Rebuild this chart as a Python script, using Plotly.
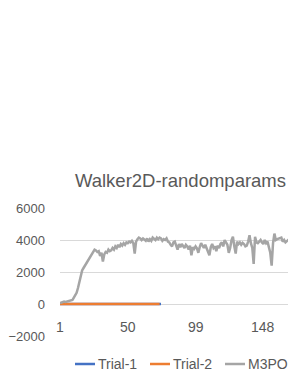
import plotly.graph_objects as go

title_text = "Walker2D-randomparams"
series_names = ["Trial-1", "Trial-2", "M3PO"]
x_tick_labels = [1, 50, 99, 148]
y_tick_vals = [-2000, 0, 2000, 4000, 6000]

trial1 = [
    0, 0, 0, 0, 0, 0, 0, 0, 0, 0,
    0, 0, 0, 0, 0, 0, 0, 0, 0, 0,
    0, 0, 0, 0, 0, 0, 0, 0, 0, 0,
    0, 0, 0, 0, 0, 0, 0, 0, 0, 0,
    0, 0, 0, 0, 0, 0, 0, 0, 0, 0,
    0, 0, 0, 0, 0, 0, 0, 0, 0, 0,
    0, 0, 0, 0, 0, 0, 0, 0, 0, 0,
    0, 0, 0, 0,
]
trial2 = [
    0, 0, 0, 0, 0, 0, 0, 0, 0, 0,
    0, 0, 0, 0, 0, 0, 0, 0, 0, 0,
    0, 0, 0, 0, 0, 0, 0, 0, 0, 0,
    0, 0, 0, 0, 0, 0, 0, 0, 0, 0,
    0, 0, 0, 0, 0, 0, 0, 0, 0, 0,
    0, 0, 0, 0, 0, 0, 0, 0, 0, 0,
    0, 0, 0, 0, 0, 0, 0, 0, 0, 0,
    0, 0, 0,
]
m3po = [
    50, 80, 120, 150, 130, 160, 150, 180, 200, 250,
    400, 550, 700, 1000, 1450, 1800, 2100, 2250, 2400, 2550,
    2650, 2800, 2950, 3100, 3300, 3400, 3350, 3250, 3300, 3000,
    3200, 2650, 3100, 3250, 3200, 3400, 3300, 3350, 3500, 3400,
    3600, 3500, 3700, 3550, 3750, 3650, 3800, 3700, 3850, 3800,
    3900, 3850, 3950, 3800, 3150, 3900, 4050, 4150, 4100, 4000,
    4100, 4050, 3950, 4100, 3900, 4050, 3950, 4150, 4100, 4000,
    4150, 4050, 4150, 4100, 3950, 4050, 4000, 4100, 3900, 3850,
    3700, 3600, 3850, 3900, 3650, 3400, 3750, 3550, 3750, 3600,
    3500, 3700, 3600, 3400, 3650, 3050, 3550, 3450, 3600, 3480,
    3200, 3550, 3800, 3650, 3500, 3700, 3450, 3300, 3050, 3550,
    3750, 3500, 3600, 3300, 3650, 3500, 3750, 3850, 3600, 4000,
    3800, 3700, 3200, 3500, 4000, 4200, 3600, 3150, 3900, 3750,
    3850, 3700, 3820, 3750, 3600, 3650, 3900, 4300, 3800, 3500,
    2500, 4200, 3850, 3800, 3900, 4000, 3850, 3750, 4000, 3800,
    3900, 3500, 3200, 2400, 3800, 4400, 4000, 4050, 4100, 4150,
    4150, 3900, 4000, 3850, 3950, 4000, 3900, 4000, 3950, 4000,
    3950, 4050, 3980, 4020, 4000,
]

colors = ["#4472C4", "#ED7D31", "#A5A5A5"]
font_color = "#595959"
font_family = "Liberation Sans, Arial, sans-serif"

# page body has an 8px default margin; figure canvas starts at screen (8, 8)
OFF = 8
W, H = 296 - OFF, 383 - 2 * OFF
L, T = 60 - OFF, 208 - OFF
R = 0
B = H - (336 - OFF)
pw, ph = W - L - R, H - T - B


def px_to_paper_x(px):
    return (px - OFF - L) / pw


def py_to_paper_y(py):
    return (H - B - (py - OFF)) / ph


fig = go.Figure()
for name, vals, col in zip(series_names, [trial1, trial2, m3po], colors):
    fig.add_trace(go.Scatter(
        x=list(range(1, len(vals) + 1)), y=vals, mode="lines", name=name,
        line=dict(color=col, width=2.5), showlegend=False,
    ))

for t in x_tick_labels:
    fig.add_annotation(x=t, y=0, xref="x", yref="y", text=str(t), showarrow=False,
                       yanchor="top", yshift=-13,
                       font=dict(size=14, color=font_color, family=font_family))

# legend drawn as line samples + labels
legend_line_starts = [75, 150, 225]
leg_y = py_to_paper_y(364)
shapes = []
for name, col, x0 in zip(series_names, colors, legend_line_starts):
    shapes.append(dict(type="line", xref="paper", yref="paper",
                       x0=px_to_paper_x(x0), x1=px_to_paper_x(x0 + 20), y0=leg_y, y1=leg_y,
                       line=dict(color=col, width=2.5)))
    fig.add_annotation(x=px_to_paper_x(x0 + 21), y=leg_y, xref="paper", yref="paper",
                       text=name, showarrow=False, xanchor="left", yanchor="middle",
                       font=dict(size=14, color=font_color, family=font_family))

fig.update_layout(
    width=W, height=H,
    margin=dict(l=L, r=R, t=T, b=B, autoexpand=False),
    paper_bgcolor="white", plot_bgcolor="white",
    shapes=shapes,
    title=dict(text=title_text, x=(180.5 - OFF) / W, xanchor="center",
               y=1 - (181 - OFF) / H, yanchor="middle",
               font=dict(size=18.5, color=font_color, family=font_family)),
    xaxis=dict(range=[1, 171.6], showticklabels=False, showgrid=False, zeroline=False,
               showline=False, ticks=""),
    yaxis=dict(range=[-2000, 6000], tickvals=y_tick_vals, showgrid=True, gridcolor="#D9D9D9",
               gridwidth=1, zeroline=False, showline=False, ticklabelstandoff=14,
               tickfont=dict(size=13, color=font_color, family=font_family)),
    showlegend=False,
)

fig.write_html("out.html")
